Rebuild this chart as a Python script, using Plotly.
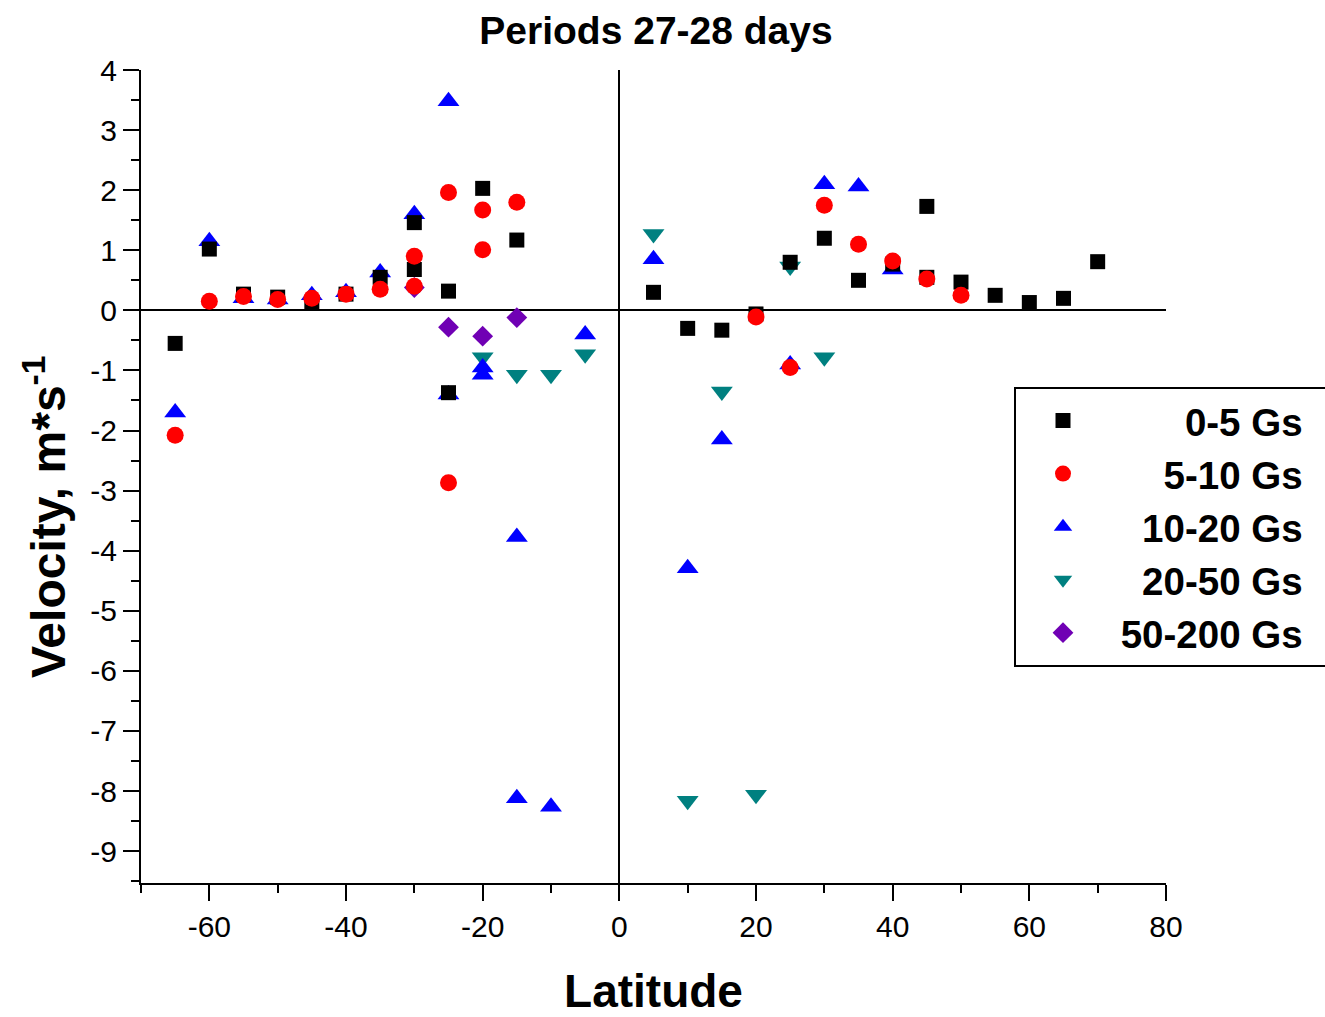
import plotly.graph_objects as go

# ---- data ----
lat_0_5 = [-65, -60, -55, -50, -45, -40, -35, -30, -30, -25, -25, -20, -15,
           5, 10, 15, 20, 25, 30, 35, 40, 45, 45, 50, 55, 60, 65, 70]
vel_0_5 = [-0.55, 1.02, 0.27, 0.22, 0.13, 0.27, 0.55, 1.46, 0.68, 0.32, -1.37, 2.03, 1.17,
           0.30, -0.30, -0.33, -0.06, 0.80, 1.20, 0.50, 0.77, 1.73, 0.55, 0.47, 0.25, 0.13, 0.20, 0.81]

lat_5_10 = [-65, -60, -55, -50, -45, -40, -35, -30, -30, -25, -25, -20, -20, -15,
            20, 25, 30, 35, 40, 45, 50]
vel_5_10 = [-2.08, 0.15, 0.23, 0.18, 0.20, 0.27, 0.35, 0.90, 0.40, 1.96, -2.87, 1.67, 1.01, 1.80,
            -0.11, -0.95, 1.75, 1.10, 0.82, 0.52, 0.25]

lat_10_20 = [-65, -60, -55, -50, -45, -40, -35, -30, -25, -25, -20, -20, -15, -15, -10, -5,
             5, 10, 15, 25, 30, 35, 40]
vel_10_20 = [-1.70, 1.15, 0.20, 0.18, 0.25, 0.30, 0.63, 1.60, 3.48, -1.40, -0.95, -1.07, -3.77, -8.12, -8.26, -0.40,
             0.85, -4.29, -2.15, -0.90, 2.10, 2.06, 0.68]

lat_20_50 = [-20, -15, -10, -5, 5, 10, 15, 20, 25, 30]
vel_20_50 = [-0.78, -1.07, -1.07, -0.73, 1.27, -8.16, -1.35, -8.06, 0.73, -0.78]

lat_50_200 = [-30, -25, -20, -15]
vel_50_200 = [0.38, -0.28, -0.43, -0.12]

series_names = ["0-5 Gs", "5-10 Gs", "10-20 Gs", "20-50 Gs", "50-200 Gs"]

x_ticks = [-60, -40, -20, 0, 20, 40, 60, 80]
y_ticks = [4, 3, 2, 1, 0, -1, -2, -3, -4, -5, -6, -7, -8, -9]

# ---- styling ----
FONT = "Liberation Sans, Arial, sans-serif"
NB = "\u00a0"
pad = {"0-5 Gs": 6, "5-10 Gs": 4, "10-20 Gs": 2, "20-50 Gs": 2, "50-200 Gs": 0}
tail = NB * 2


def label(n):
    return NB * (pad[n] + 1) + n + tail


styles = [
    (lat_20_50, vel_20_50, "20-50 Gs", "triangle-down", "#008080", 19),
    (lat_50_200, vel_50_200, "50-200 Gs", "diamond", "#7000B4", 16),
    (lat_10_20, vel_10_20, "10-20 Gs", "triangle-up", "#0000FF", 19),
    (lat_0_5, vel_0_5, "0-5 Gs", "square", "#000000", 15),
    (lat_5_10, vel_5_10, "5-10 Gs", "circle", "#FF0000", 17),
]
legend_rank = {n: i for i, n in enumerate(series_names)}

fig = go.Figure()
for xs, ys, name, sym, col, sz in styles:
    fig.add_trace(go.Scatter(
        x=xs, y=ys, mode="markers", name=label(name),
        legendrank=legend_rank[name] + 1, legendgroup=name,
        marker=dict(symbol=sym, color=col, size=sz, line=dict(width=0)),
    ))

axis_font = dict(family=FONT, size=30, color="black")

fig.update_layout(
    width=1325, height=1017,
    paper_bgcolor="white", plot_bgcolor="white",
    margin=dict(l=141, r=159, t=70, b=134, autoexpand=False),
    title=dict(text="<b>Periods 27-28 days</b>", x=656 / 1325, xanchor="center",
               y=1 - 30 / 1017, yanchor="middle",
               font=dict(family=FONT, size=39, color="black")),
    xaxis=dict(
        range=[-70, 80], tickvals=x_ticks, ticktext=[str(v) for v in x_ticks],
        showline=True, linecolor="black", linewidth=2, mirror=False,
        ticks="outside", ticklen=16, tickwidth=2, tickcolor="black",
        minor=dict(dtick=10, ticks="outside", ticklen=8, tickwidth=2, tickcolor="black"),
        showgrid=False, zeroline=True, zerolinecolor="black", zerolinewidth=2,
        tickfont=axis_font, automargin=False,
        title=dict(text="<b>Latitude</b>", standoff=36,
                   font=dict(family=FONT, size=46, color="black")),
    ),
    yaxis=dict(
        range=[-9.53, 4], tickvals=y_ticks, ticktext=[str(v) for v in y_ticks],
        showline=True, linecolor="black", linewidth=2, mirror=False,
        ticks="outside", ticklen=16, tickwidth=2, tickcolor="black",
        minor=dict(dtick=0.5, ticks="outside", ticklen=8, tickwidth=2, tickcolor="black"),
        showgrid=False, zeroline=True, zerolinecolor="black", zerolinewidth=2,
        tickfont=axis_font, automargin=False,
    ),
    annotations=[dict(
        text="<b>Velocity, m*s<sup>-1</sup></b>", textangle=-90,
        xref="paper", yref="paper", x=(45 - 141) / 1025, y=(883 - 517) / 813,
        xanchor="center", yanchor="middle", showarrow=False,
        font=dict(family=FONT, size=48, color="black"),
    )],
    legend=dict(
        x=(1014 - 141) / 1025, xanchor="left",
        y=(883 - 387) / 813, yanchor="top",
        bgcolor="white", bordercolor="black", borderwidth=2,
        font=dict(family=FONT, size=38.5, color="black", weight="bold"),
        traceorder="normal", itemsizing="trace", itemwidth=84,
        tracegroupgap=2,
    ),
    showlegend=True,
)

fig.write_html("out.html")
